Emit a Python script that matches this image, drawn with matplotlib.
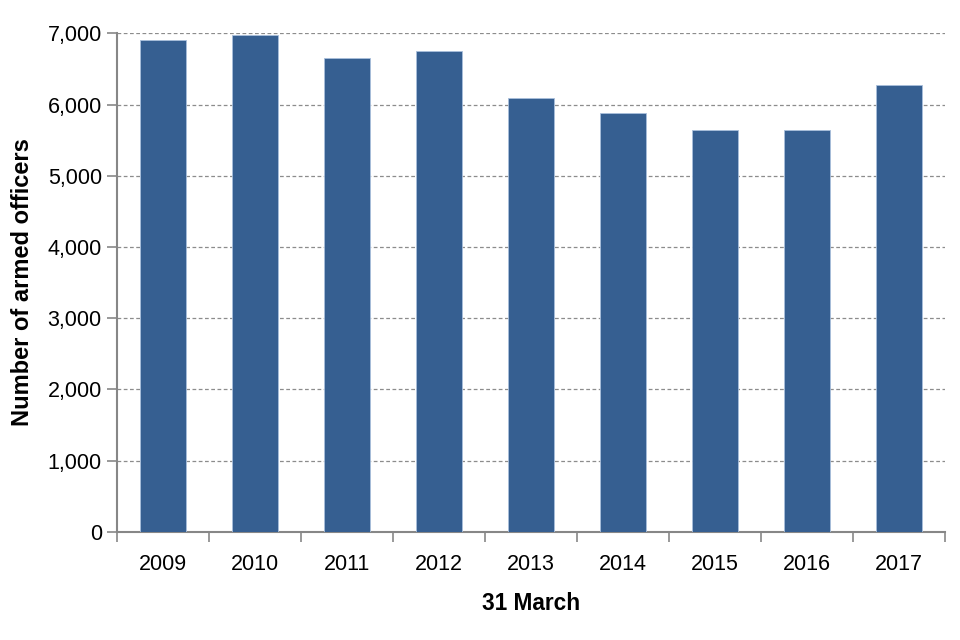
import matplotlib
matplotlib.use("Agg")
import matplotlib.pyplot as plt
from matplotlib.ticker import FuncFormatter, MultipleLocator

plt.rcParams['font.family'] = ['Liberation Sans', 'DejaVu Sans']

years = ['2009', '2010', '2011', '2012', '2013', '2014', '2015', '2016', '2017']
officers = [6906, 6979, 6653, 6756, 6090, 5875, 5639, 5639, 6278]

fig = plt.figure(figsize=(9.6, 6.4), dpi=100)
ax = fig.add_axes([0.122, 0.169, 0.862, 0.779])

x = range(len(years))
ax.bar(x, officers, width=0.5, color='#365F91', edgecolor='#a9bfdc', linewidth=0.6, zorder=3)

ax.set_xlim(-0.5, len(years) - 0.5)
ax.set_ylim(0, 7000)
ax.yaxis.set_major_locator(MultipleLocator(1000))
ax.yaxis.set_major_formatter(FuncFormatter(lambda v, p: f'{int(v):,}'))
ax.set_xticks(list(x))
ax.set_xticklabels(years)
ax.set_xticks([i - 0.5 for i in range(len(years) + 1)], minor=True)
ax.tick_params(axis='x', which='major', length=0, pad=16, labelsize=15.5)
ax.tick_params(axis='x', which='minor', length=7, color='#878787', width=1.2)
ax.tick_params(axis='y', length=7, color='#878787', width=1.2, labelsize=15.5, pad=4)

ax.grid(axis='y', linestyle=(0, (3, 2)), color='#8c8c8c', linewidth=0.9, zorder=0)
ax.spines['top'].set_visible(False)
ax.spines['right'].set_visible(False)
for s in ('left', 'bottom'):
    ax.spines[s].set_color('#878787')
    ax.spines[s].set_linewidth(1.5)

ax.set_ylabel('Number of armed officers', fontsize=17, fontweight='bold', labelpad=10)
ax.set_xlabel('31 March', fontsize=16.3, fontweight='bold', labelpad=12)

fig.savefig('out.png', dpi=100)
